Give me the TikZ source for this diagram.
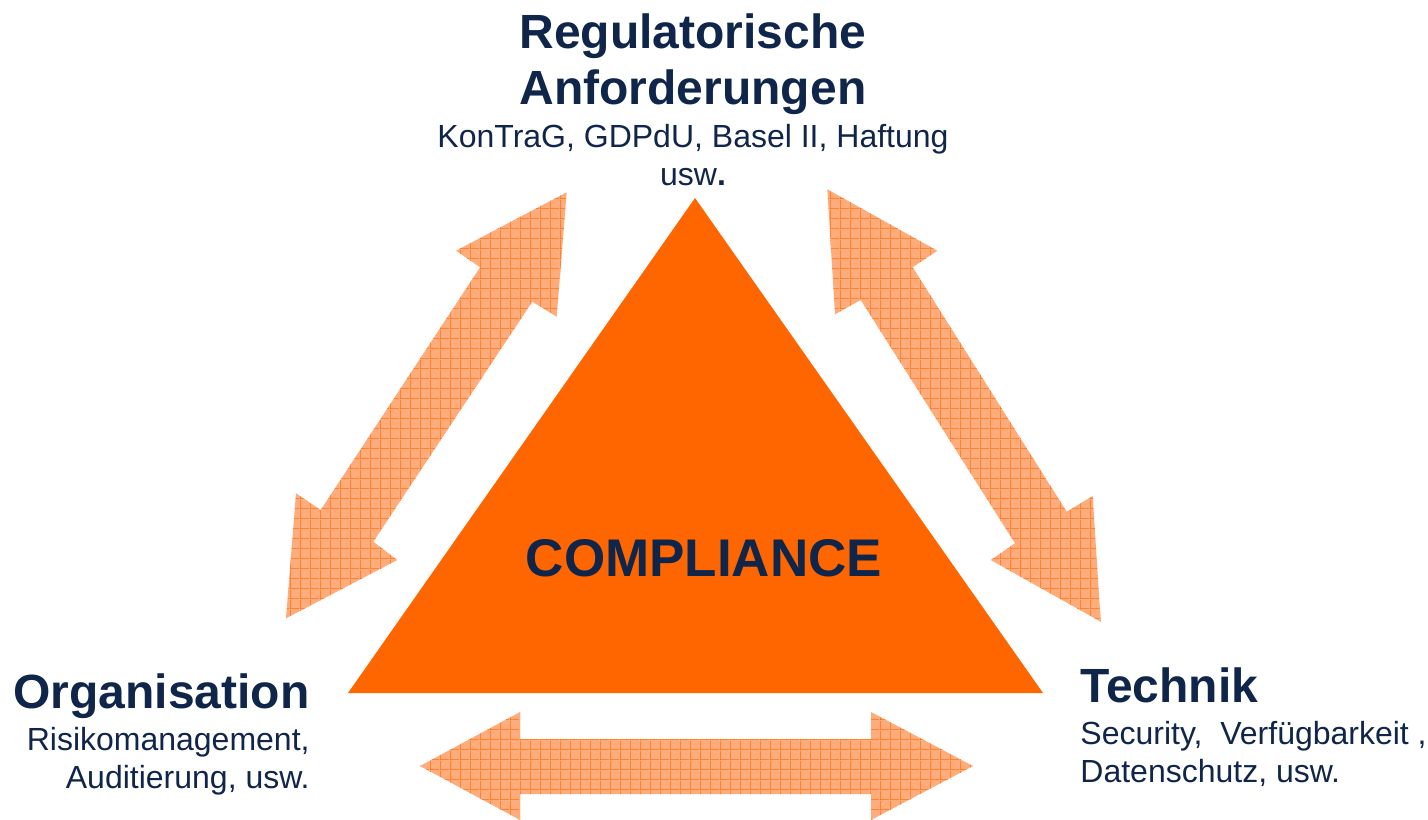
\documentclass[tikz,border=0pt]{standalone}
\usepackage{fontspec}
\setmainfont{Liberation Sans}
\usetikzlibrary{positioning, patterns}

\definecolor{compOrange}{RGB}{255,102,0}
\definecolor{arrowFill}{RGB}{255,172,124}
\definecolor{arrowLine}{RGB}{255,108,8}
\definecolor{navy}{RGB}{16,37,74}

% grid used inside the block arrows
\pgfdeclarepatternformonly{arrowgrid}{\pgfpointorigin}{\pgfqpoint{5pt}{5pt}}{\pgfqpoint{5pt}{5pt}}{
  \pgfsetlinewidth{0.6pt}
  \pgfpathmoveto{\pgfqpoint{0pt}{0pt}}\pgfpathlineto{\pgfqpoint{5pt}{0pt}}
  \pgfpathmoveto{\pgfqpoint{0pt}{0pt}}\pgfpathlineto{\pgfqpoint{0pt}{5pt}}
  \pgfusepath{stroke}}

\tikzset{
  blockarrow/.style={fill=arrowFill, postaction={pattern=arrowgrid, pattern color=arrowLine}},
  head/.style={text=navy, inner sep=0pt, font=\bfseries\fontsize{24}{28}\selectfont},
  sub/.style={text=navy, inner sep=0pt, font=\fontsize{16}{19}\selectfont},
}

\begin{document}
\begin{tikzpicture}[x=0.5pt, y=-0.5pt]
			\useasboundingbox (0,0) rectangle (1428,819);
			% the compliance triangle
			\fill[compOrange] (695,198) -- (1043,693) -- (348,693) -- cycle;
			\node[head, font=\bfseries\fontsize{26.5}{30}\selectfont] (comp) at (704,558) {COMPLIANCE};
			% double block arrows between the three corners
			\fill[blockarrow] (566.7,192.3) -- (456,250.7) -- (480,267.3) -- (320.7,510) -- (296,493.3) -- (286,618.3) -- (397.3,560) -- (373.3,541.7) -- (532.3,301.7) -- (556.7,316.7) -- cycle;
			\fill[blockarrow] (827.3,189.3) -- (937.3,250.7) -- (912.7,267.3) -- (1066.7,511.7) -- (1092.7,496) -- (1100.7,621.7) -- (990.7,560) -- (1015,543.3) -- (860.7,300) -- (835,314.3) -- cycle;
			\fill[blockarrow] (420,766) -- (520,712) -- (520,739) -- (871,739) -- (871,712) -- (973,766) -- (871,820) -- (871,794) -- (520,794) -- (520,820) -- cycle;
			% corner labels
			\node[head, align=center, anchor=north] (reg) at (693,13) {Regulatorische\\Anforderungen};
			\node[sub, align=center, below=4.5pt of reg] (regsub) {KonTraG, GDPdU, Basel II, Haftung\\usw\textbf{.}};
			\node[head, anchor=base east] (org) at (310,708) {Organisation};
			\node[sub, align=right, anchor=north east] (orgsub) at ([yshift=-9.5pt]org.base east) {Risikomanagement,\\Auditierung, usw.};
			\node[head, anchor=base west] (tech) at (1080,702) {Technik};
			\node[sub, align=left, anchor=north west] (techsub) at ([yshift=-9.5pt]tech.base west) {Security,\ \ Verfügbarkeit ,\\Datenschutz, usw.};
\end{tikzpicture}
\end{document}
